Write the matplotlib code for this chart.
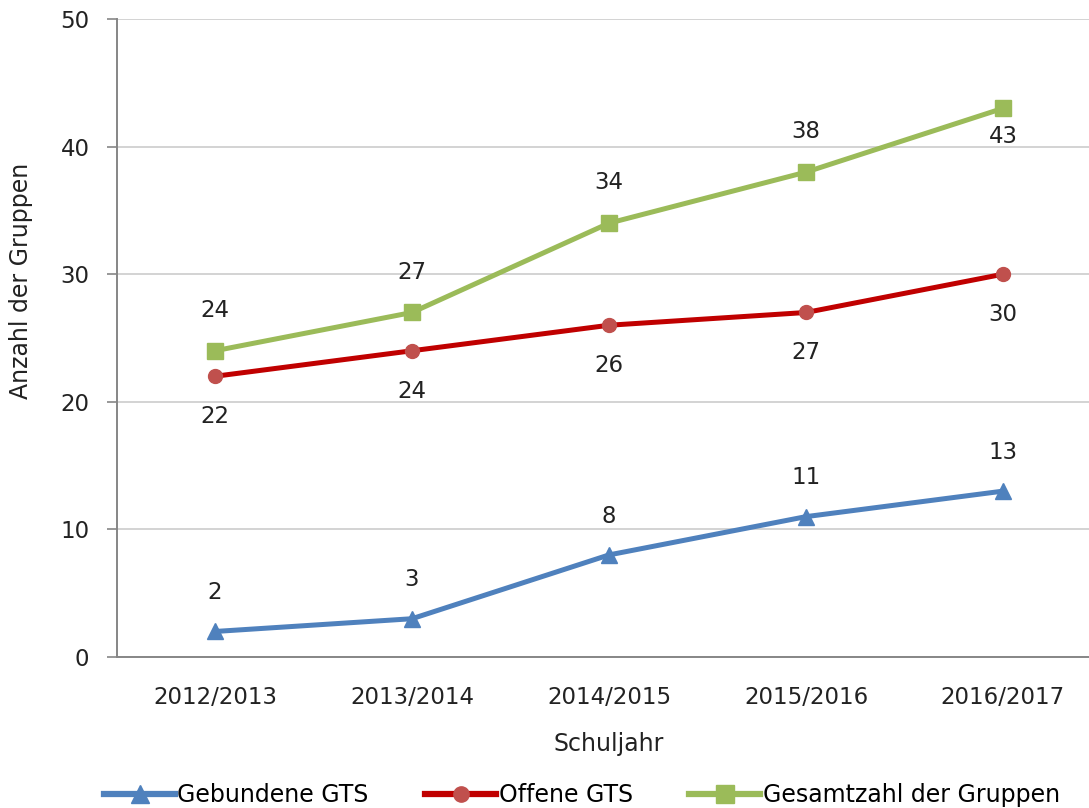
import numpy as np
import matplotlib.pyplot as plt
from matplotlib.lines import Line2D

# data
jahre = ['2012/2013', '2013/2014', '2014/2015', '2015/2016', '2016/2017']
gebunden = [2, 3, 8, 11, 13]
offen = [22, 24, 26, 27, 30]
gesamt = [24, 27, 34, 38, 43]

plt.rcParams['font.family'] = ['DejaVu Sans']

fig = plt.figure(figsize=(10.89, 8.08), dpi=100)
# axes spans beyond the right edge like in the (cropped) reference
ax = fig.add_axes([116.5 / 1089, 1 - 657 / 808, 985 / 1089, 638 / 808])

x = np.arange(len(jahre))
fs = 16.5

ax.plot(x, gebunden, color='#4F81BD', lw=3.6, marker='^', ms=12, label='Gebundene GTS')
ax.plot(x, offen, color='#C00000', lw=3.6, marker='o', ms=10,
        mfc='#C0504D', mec='#C0504D', label='Offene GTS')
ax.plot(x, gesamt, color='#9BBB59', lw=3.6, marker='s', ms=12, label='Gesamtzahl der Gruppen')

# data labels
for i in range(len(x)):
    ax.annotate(str(gebunden[i]), (x[i], gebunden[i]), xytext=(0, 28), textcoords='offset points',
                ha='center', va='center', fontsize=fs, color='#222222')
    ax.annotate(str(offen[i]), (x[i], offen[i]), xytext=(0, -29), textcoords='offset points',
                ha='center', va='center', fontsize=fs, color='#222222')
    off = 29 if i < len(x) - 1 else -20
    ax.annotate(str(gesamt[i]), (x[i], gesamt[i]), xytext=(0, off), textcoords='offset points',
                ha='center', va='center', fontsize=fs, color='#222222')

ax.set_xlim(-0.5, len(x) - 0.5)
ax.set_ylim(0, 50)
ax.set_yticks([0, 10, 20, 30, 40, 50])
ax.set_xticks(x)
ax.set_xticklabels(jahre)
ax.tick_params(axis='y', length=7, width=1.2, color='#868686', labelsize=fs, pad=12.5, labelcolor='#222222')
ax.tick_params(axis='x', length=0, labelsize=fs, pad=21, labelcolor='#222222')
ax.grid(axis='y', color='#D0D0D0', lw=1.3)
ax.set_axisbelow(True)
for s in ['top', 'right']:
    ax.spines[s].set_visible(False)
for s in ['left', 'bottom']:
    ax.spines[s].set_color('#868686')
    ax.spines[s].set_linewidth(1.4)

ax.set_xlabel('Schuljahr', fontsize=17, color='#222222')
ax.xaxis.set_label_coords(0.5, -0.117)
ax.set_ylabel('Anzahl der Gruppen', fontsize=17, color='#222222')
ax.yaxis.set_label_coords(-0.085, 0.59)

handles = [
    Line2D([], [], color='#4F81BD', lw=4.5, marker='^', ms=13),
    Line2D([], [], color='#C00000', lw=4.5, marker='o', ms=11, mfc='#C0504D', mec='#C0504D'),
    Line2D([], [], color='#9BBB59', lw=4.5, marker='s', ms=13),
]
fig.legend(handles, ['Gebundene GTS', 'Offene GTS', 'Gesamtzahl der Gruppen'],
           loc='center', bbox_to_anchor=(582 / 1089, 1 - 795 / 808), ncol=3, frameon=False,
           fontsize=17, handlelength=3.0, handletextpad=0.1, columnspacing=2.4,
           borderpad=0.2)

fig.savefig('out.png', dpi=100)
